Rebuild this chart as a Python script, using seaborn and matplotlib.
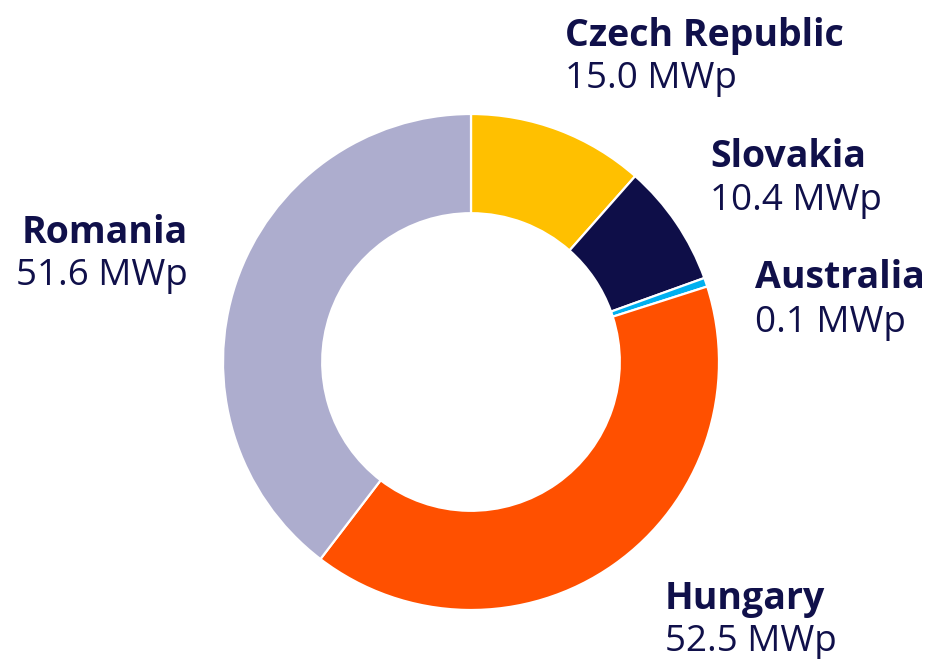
import matplotlib
matplotlib.use("Agg")
import matplotlib.pyplot as plt
import seaborn as sns

countries = ["Czech Republic", "Slovakia", "Australia", "Hungary", "Romania"]
values = [15.0, 10.4, 0.1, 52.5, 51.6]          # MWp shown in labels
slice_sizes = [15.0, 10.4, 0.75, 52.5, 51.6]     # visual slice sizes
colors = ["#FFC000", "#0E0E48", "#00B0F0", "#FF5000", "#ADADCE"]

sns.set_theme(style="white")
plt.rcParams["font.family"] = ["Open Sans", "DejaVu Sans"]

W, H = 931, 659
fig = plt.figure(figsize=(W / 100, H / 100), dpi=100)
cx, cy, R = 471, 362, 248
ax = fig.add_axes([(cx - R) / W, (H - cy - R) / H, 2 * R / W, 2 * R / H])
pal = sns.color_palette(colors)
ax.pie(slice_sizes, colors=pal, startangle=90, counterclock=False, radius=1,
       wedgeprops=dict(width=0.4, edgecolor="white", linewidth=1.6))
ax.set_xlim(-1, 1)
ax.set_ylim(-1, 1)
ax.set_aspect("equal")
ax.axis("off")

navy = "#10104A"
# (left/right x, name baseline y, value baseline y, ha)
pos = {
    "Czech Republic": (565, 46, 88, "left"),
    "Slovakia": (710, 167, 210, "left"),
    "Australia": (755, 288, 332, "left"),
    "Hungary": (665, 609, 651, "left"),
    "Romania": (188, 243, 285, "right"),
}
for name, v in zip(countries, values):
    x, y1, y2, ha = pos[name]
    fig.text(x / W, 1 - y1 / H, name, ha=ha, va="baseline", fontsize=27,
             fontweight="bold", color=navy)
    fig.text(x / W, 1 - y2 / H, f"{v:.1f} MWp", ha=ha, va="baseline",
             fontsize=26.5, color=navy)

fig.savefig("out.png", dpi=100)
